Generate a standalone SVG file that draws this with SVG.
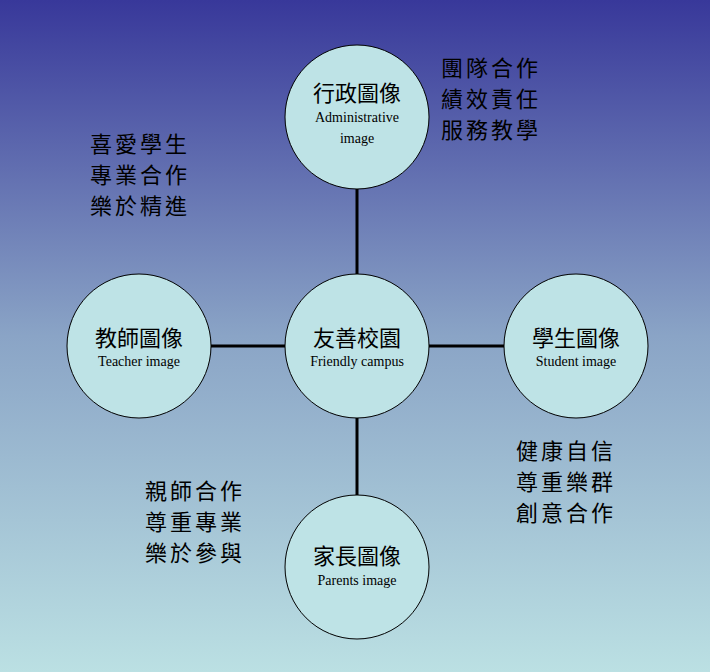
<svg xmlns="http://www.w3.org/2000/svg" width="710" height="672" viewBox="0 0 710 672">
<defs>
<linearGradient id="bg" x1="0" y1="0" x2="0" y2="1">
<stop offset="0" stop-color="#38389a"/>
<stop offset="0.5" stop-color="#8aa4c6"/>
<stop offset="1" stop-color="#bbe0e3"/>
</linearGradient>
<style>
.n{fill:#bee3e6;stroke:#000;stroke-width:1}
.t{font-family:"Liberation Serif","Noto Sans CJK TC",serif;fill:#000;text-anchor:middle}
.zh{font-size:22px}
.en{font-size:14px}
.side{font-family:"Liberation Serif","Noto Sans CJK TC",serif;font-size:22px;fill:#000;letter-spacing:3px}
.c{stroke:#000;stroke-width:3}
</style>
</defs>
<rect width="710" height="672" fill="url(#bg)"/>
<g id="connectors">
<line class="c" x1="357" y1="189" x2="357" y2="274"/>
<line class="c" x1="357" y1="418" x2="357" y2="495"/>
<line class="c" x1="211" y1="346" x2="285" y2="346"/>
<line class="c" x1="429" y1="346" x2="504" y2="346"/>
</g>
<g id="admin"><circle class="n" cx="357" cy="117" r="72"/>
<text class="t zh" x="357" y="101">行政圖像</text>
<text class="t en" x="357" y="122">Administrative</text>
<text class="t en" x="357" y="143">image</text></g>
<g id="center"><circle class="n" cx="357" cy="346" r="72"/>
<text class="t zh" x="357" y="346">友善校園</text>
<text class="t en" x="357" y="366">Friendly campus</text></g>
<g id="teacher"><circle class="n" cx="139" cy="346" r="72"/>
<text class="t zh" x="139" y="346">教師圖像</text>
<text class="t en" x="139" y="366">Teacher image</text></g>
<g id="student"><circle class="n" cx="576" cy="346" r="72"/>
<text class="t zh" x="576" y="346">學生圖像</text>
<text class="t en" x="576" y="366">Student image</text></g>
<g id="parents"><circle class="n" cx="357" cy="567" r="72"/>
<text class="t zh" x="357" y="564">家長圖像</text>
<text class="t en" x="357" y="585">Parents image</text></g>
<g id="notes">
<text class="side" x="441" y="76">團隊合作</text>
<text class="side" x="441" y="107">績效責任</text>
<text class="side" x="441" y="138">服務教學</text>
<text class="side" x="90" y="152">喜愛學生</text>
<text class="side" x="90" y="183">專業合作</text>
<text class="side" x="90" y="214">樂於精進</text>
<text class="side" x="516" y="459">健康自信</text>
<text class="side" x="516" y="490">尊重樂群</text>
<text class="side" x="516" y="521">創意合作</text>
<text class="side" x="145" y="499">親師合作</text>
<text class="side" x="145" y="530">尊重專業</text>
<text class="side" x="145" y="561">樂於參與</text>
</g>
</svg>
